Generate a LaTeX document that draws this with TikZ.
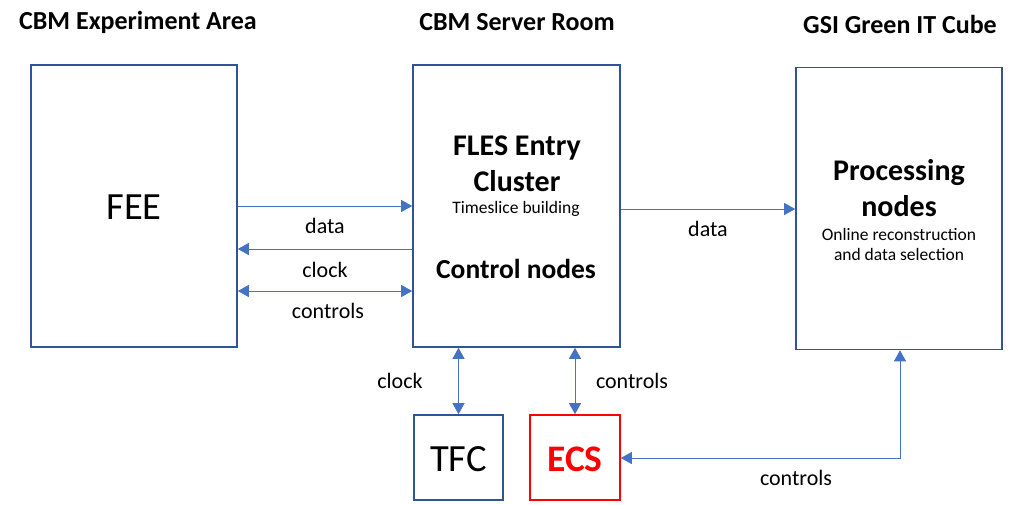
\documentclass[tikz,border=0pt]{standalone}
\usepackage{fontspec}
\setmainfont{Carlito}
\usetikzlibrary{arrows.meta}
\definecolor{boxblue}{HTML}{2F5597}
\definecolor{arrblue}{HTML}{4472C4}
\definecolor{ecsred}{HTML}{FF0000}
\begin{document}
\begin{tikzpicture}[x=1pt,y=-1pt,
  blockbox/.style={draw=boxblue,line width=1.6pt,rectangle,inner sep=0pt},
  arr/.style={draw=arrblue,line width=0.9pt,-{Triangle[length=11pt,width=12pt]}},
  darr/.style={draw=arrblue,line width=0.9pt,{Triangle[length=11pt,width=12pt]}-{Triangle[length=11pt,width=12pt]}},
  hdr/.style={font=\fontsize{26}{30}\selectfont\bfseries},
  lbl/.style={font=\fontsize{22}{26}\selectfont},
  big/.style={font=\fontsize{38.5}{44}\selectfont},
  sub/.style={font=\fontsize{30}{34}\selectfont\bfseries},
  subb/.style={font=\fontsize{27.5}{32}\selectfont\bfseries},
  small/.style={font=\fontsize{17.5}{21}\selectfont}]
\useasboundingbox (0,0) rectangle (1033,504);
% boxes
\node[blockbox,minimum width=206pt,minimum height=282pt] (FEE) at (134,206) {};
\node[blockbox,minimum width=207pt,minimum height=282pt] (FLES) at (516.5,206) {};
\node[blockbox,minimum width=206pt,minimum height=282pt] (PROC) at (899,208.5) {};
\node[blockbox,minimum width=89pt,minimum height=85pt] (TFC) at (458.5,457.5) {};
\node[draw=ecsred,line width=1.6pt,rectangle,inner sep=0pt,minimum width=90pt,minimum height=85pt] (ECS) at (575,457.5) {};
% headers
\node[hdr] (h1) at (138,22) {CBM Experiment Area};
\node[hdr] (h2) at (517,22) {CBM Server Room};
\node[hdr] (h3) at (900,24) {GSI Green IT Cube};
% box texts
\node[big] (feet) at (134,207) {FEE};
\node[sub] (fles1) at (517,148) {FLES Entry};
\node[sub] (fles2) at (517,181) {Cluster};
\node[small] (fles3) at (516,209) {Timeslice building};
\node[subb] (fles4) at (516,269) {Control nodes};
\node[sub] (proc1) at (899,173) {Processing};
\node[sub] (proc2) at (899,206) {nodes};
\node[small] (proc3) at (899,234) {Online reconstruction};
\node[small] (proc4) at (899,254) {and data selection};
\node[big] (tfct) at (458.5,459) {TFC};
\node[big,text=ecsred,font=\fontsize{37.5}{44}\selectfont\bfseries] (ecst) at (575,459) {ECS};
% horizontal arrows
\draw[arr] (FEE.east |- 0,206) -- (FLES.west |- 0,206);
\draw[arr] (FLES.west |- 0,249) -- (FEE.east |- 0,249);
\draw[darr] (FEE.east |- 0,291) -- (FLES.west |- 0,291);
\draw[arr] (FLES.east |- 0,209) -- (PROC.west |- 0,209);
\node[lbl] (l1) at (325,226) {data};
\node[lbl] (l2) at (325,270) {clock};
\node[lbl] (l3) at (328,311) {controls};
\node[lbl] (l4) at (708,229) {data};
% vertical arrows
\draw[darr] (FLES.south -| TFC.north) -- (TFC.north);
\draw[darr] (FLES.south -| ECS.north) -- (ECS.north);
\node[lbl] (l5) at (400,381) {clock};
\node[lbl] (l6) at (632,381) {controls};
% controls between processing and ECS
\coordinate (corner) at (900,458);
\draw[darr] (PROC.south -| corner) -- (corner) -- (ECS.east |- corner);
\node[lbl] (l7) at (796,478) {controls};
\end{tikzpicture}
\end{document}
